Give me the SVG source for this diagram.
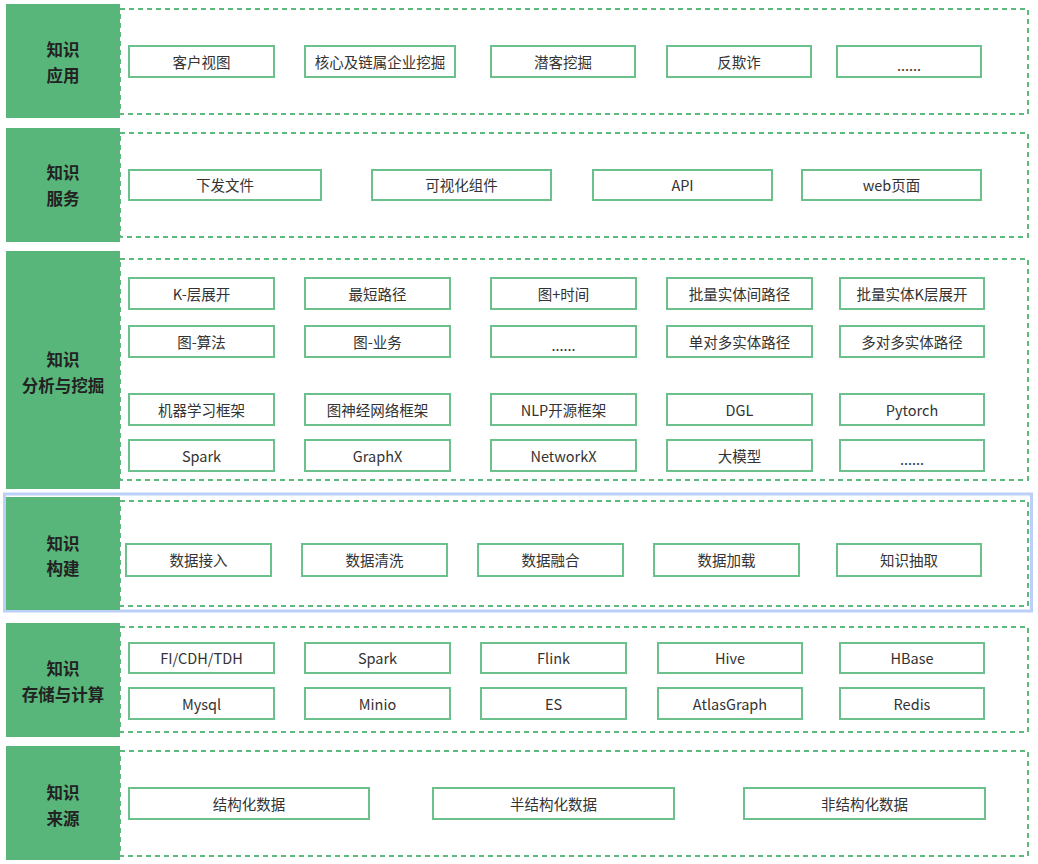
<svg xmlns="http://www.w3.org/2000/svg" width="1038" height="864" viewBox="0 0 1038 864">
<style>
.bg{fill:#ffffff}
.lab{fill:#58b67a}
.dash{fill:none;stroke:#5cba7d;stroke-width:2;stroke-dasharray:5 4}
.box{fill:#ffffff;stroke:#6cc08c;stroke-width:2}
.hl{fill:none;stroke:#bccff6;stroke-width:3}
.lt{font-family:"Noto Sans CJK SC","Noto Sans",sans-serif;font-size:16.5px;font-weight:bold;fill:#222222;text-anchor:middle;dominant-baseline:central}
.bt{font-family:"Noto Sans CJK SC","Noto Sans",sans-serif;font-size:14.5px;fill:#333333;text-anchor:middle;dominant-baseline:central}
</style>
<rect class="bg" x="0" y="0" width="1038" height="864"/>

<g id="layer-app">
<rect class="dash" x="120" y="9" width="908" height="105"/>
<rect class="lab" x="6" y="4" width="114" height="114"/>
<text class="lt" x="63" y="49">知识</text>
<text class="lt" x="63" y="75">应用</text>
</g>
<g id="app-1"><rect class="box" x="129" y="46" width="145" height="31"/><text class="bt" x="201.5" y="61.5">客户视图</text></g>
<g id="app-2"><rect class="box" x="305" y="46" width="150" height="31"/><text class="bt" x="380" y="61.5">核心及链属企业挖掘</text></g>
<g id="app-3"><rect class="box" x="491" y="46" width="144" height="31"/><text class="bt" x="563" y="61.5">潜客挖掘</text></g>
<g id="app-4"><rect class="box" x="667" y="46" width="144" height="31"/><text class="bt" x="739" y="61.5">反欺诈</text></g>
<g id="app-5"><rect class="box" x="837" y="46" width="144" height="31"/><text class="bt" x="909" y="64">......</text></g>

<g id="layer-service">
<rect class="dash" x="120" y="133" width="908" height="104"/>
<rect class="lab" x="6" y="128" width="114" height="114"/>
<text class="lt" x="63" y="172">知识</text>
<text class="lt" x="63" y="198">服务</text>
</g>
<g id="svc-1"><rect class="box" x="129" y="170" width="192" height="30"/><text class="bt" x="225" y="184.5">下发文件</text></g>
<g id="svc-2"><rect class="box" x="372" y="170" width="179" height="30"/><text class="bt" x="461.5" y="184.5">可视化组件</text></g>
<g id="svc-3"><rect class="box" x="593" y="170" width="179" height="30"/><text class="bt" x="682.5" y="184.5">API</text></g>
<g id="svc-4"><rect class="box" x="802" y="170" width="179" height="30"/><text class="bt" x="891.5" y="184.5">web页面</text></g>

<g id="layer-analysis">
<rect class="dash" x="120" y="259" width="908" height="221"/>
<rect class="lab" x="6" y="251" width="114" height="238"/>
<text class="lt" x="63" y="359">知识</text>
<text class="lt" x="63" y="385">分析与挖掘</text>
</g>
<g id="an-1"><rect class="box" x="129" y="278" width="145" height="31"/><text class="bt" x="201.5" y="293.5">K-层展开</text></g>
<g id="an-2"><rect class="box" x="305" y="278" width="145" height="31"/><text class="bt" x="377.5" y="293.5">最短路径</text></g>
<g id="an-3"><rect class="box" x="491" y="278" width="145" height="31"/><text class="bt" x="563.5" y="293.5">图+时间</text></g>
<g id="an-4"><rect class="box" x="667" y="278" width="145" height="31"/><text class="bt" x="739.5" y="293.5">批量实体间路径</text></g>
<g id="an-5"><rect class="box" x="840" y="278" width="144" height="31"/><text class="bt" x="912" y="293.5">批量实体K层展开</text></g>
<g id="an-6"><rect class="box" x="129" y="326" width="145" height="31"/><text class="bt" x="201.5" y="341.5">图-算法</text></g>
<g id="an-7"><rect class="box" x="305" y="326" width="145" height="31"/><text class="bt" x="377.5" y="341.5">图-业务</text></g>
<g id="an-8"><rect class="box" x="491" y="326" width="145" height="31"/><text class="bt" x="563.5" y="344">......</text></g>
<g id="an-9"><rect class="box" x="667" y="326" width="145" height="31"/><text class="bt" x="739.5" y="341.5">单对多实体路径</text></g>
<g id="an-10"><rect class="box" x="840" y="326" width="144" height="31"/><text class="bt" x="912" y="341.5">多对多实体路径</text></g>
<g id="an-11"><rect class="box" x="129" y="394" width="145" height="31"/><text class="bt" x="201.5" y="409.5">机器学习框架</text></g>
<g id="an-12"><rect class="box" x="305" y="394" width="145" height="31"/><text class="bt" x="377.5" y="409.5">图神经网络框架</text></g>
<g id="an-13"><rect class="box" x="491" y="394" width="145" height="31"/><text class="bt" x="563.5" y="409.5">NLP开源框架</text></g>
<g id="an-14"><rect class="box" x="667" y="394" width="145" height="31"/><text class="bt" x="739.5" y="409.5">DGL</text></g>
<g id="an-15"><rect class="box" x="840" y="394" width="144" height="31"/><text class="bt" x="912" y="409.5">Pytorch</text></g>
<g id="an-16"><rect class="box" x="129" y="440" width="145" height="31"/><text class="bt" x="201.5" y="455.5">Spark</text></g>
<g id="an-17"><rect class="box" x="305" y="440" width="145" height="31"/><text class="bt" x="377.5" y="455.5">GraphX</text></g>
<g id="an-18"><rect class="box" x="491" y="440" width="145" height="31"/><text class="bt" x="563.5" y="455.5">NetworkX</text></g>
<g id="an-19"><rect class="box" x="667" y="440" width="145" height="31"/><text class="bt" x="739.5" y="455.5">大模型</text></g>
<g id="an-20"><rect class="box" x="840" y="440" width="144" height="31"/><text class="bt" x="912" y="458">......</text></g>

<g id="layer-build">
<rect class="hl" x="4.5" y="494" width="1027" height="117"/>
<rect class="dash" x="120" y="501" width="908" height="105"/>
<rect class="lab" x="6" y="497" width="114" height="113"/>
<text class="lt" x="63" y="543">知识</text>
<text class="lt" x="63" y="568">构建</text>
</g>
<g id="bd-1"><rect class="box" x="126" y="544" width="145" height="32"/><text class="bt" x="198.5" y="559.5">数据接入</text></g>
<g id="bd-2"><rect class="box" x="302" y="544" width="145" height="32"/><text class="bt" x="374.5" y="559.5">数据清洗</text></g>
<g id="bd-3"><rect class="box" x="478" y="544" width="145" height="32"/><text class="bt" x="550.5" y="559.5">数据融合</text></g>
<g id="bd-4"><rect class="box" x="654" y="544" width="145" height="32"/><text class="bt" x="726.5" y="559.5">数据加载</text></g>
<g id="bd-5"><rect class="box" x="837" y="544" width="144" height="32"/><text class="bt" x="909" y="559.5">知识抽取</text></g>

<g id="layer-storage">
<rect class="dash" x="120" y="627" width="908" height="105"/>
<rect class="lab" x="6" y="623" width="114" height="114"/>
<text class="lt" x="63" y="668">知识</text>
<text class="lt" x="63" y="694">存储与计算</text>
</g>
<g id="st-1"><rect class="box" x="129" y="643" width="145" height="30"/><text class="bt" x="201.5" y="657.5">FI/CDH/TDH</text></g>
<g id="st-2"><rect class="box" x="305" y="643" width="145" height="30"/><text class="bt" x="377.5" y="657.5">Spark</text></g>
<g id="st-3"><rect class="box" x="481" y="643" width="145" height="30"/><text class="bt" x="553.5" y="657.5">Flink</text></g>
<g id="st-4"><rect class="box" x="658" y="643" width="144" height="30"/><text class="bt" x="730" y="657.5">Hive</text></g>
<g id="st-5"><rect class="box" x="840" y="643" width="144" height="30"/><text class="bt" x="912" y="657.5">HBase</text></g>
<g id="st-6"><rect class="box" x="129" y="688" width="145" height="31"/><text class="bt" x="201.5" y="703.5">Mysql</text></g>
<g id="st-7"><rect class="box" x="305" y="688" width="145" height="31"/><text class="bt" x="377.5" y="703.5">Minio</text></g>
<g id="st-8"><rect class="box" x="481" y="688" width="145" height="31"/><text class="bt" x="553.5" y="703.5">ES</text></g>
<g id="st-9"><rect class="box" x="658" y="688" width="144" height="31"/><text class="bt" x="730" y="703.5">AtlasGraph</text></g>
<g id="st-10"><rect class="box" x="840" y="688" width="144" height="31"/><text class="bt" x="912" y="703.5">Redis</text></g>

<g id="layer-source">
<rect class="dash" x="120" y="751" width="908" height="105"/>
<rect class="lab" x="6" y="746" width="114" height="114"/>
<text class="lt" x="63" y="792">知识</text>
<text class="lt" x="63" y="818">来源</text>
</g>
<g id="src-1"><rect class="box" x="129" y="788" width="240" height="31"/><text class="bt" x="249" y="803.5">结构化数据</text></g>
<g id="src-2"><rect class="box" x="433" y="788" width="241" height="31"/><text class="bt" x="553.5" y="803.5">半结构化数据</text></g>
<g id="src-3"><rect class="box" x="744" y="788" width="241" height="31"/><text class="bt" x="864.5" y="803.5">非结构化数据</text></g>

<g id="connectors"></g>
</svg>
